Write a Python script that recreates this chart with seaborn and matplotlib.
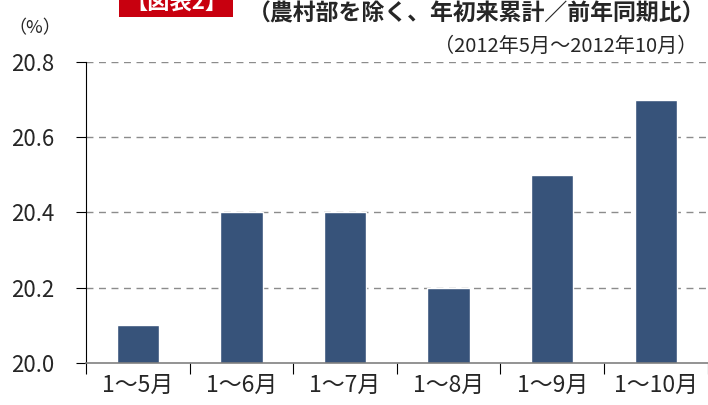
import pandas as pd
import matplotlib.pyplot as plt
import seaborn as sns
from matplotlib.patches import Rectangle

# データ
categories = ['1～5月', '1～6月', '1～7月', '1～8月', '1～9月', '1～10月']
values = [20.1, 20.4, 20.4, 20.2, 20.5, 20.7]
yticks = [20.0, 20.2, 20.4, 20.6, 20.8]

df = pd.DataFrame({'期間': categories, '比率': values})

sns.set_theme(style='white')
plt.rcParams['font.family'] = ['Noto Sans CJK JP', 'DejaVu Sans']

fig = plt.figure(figsize=(7.08, 4.05), dpi=100)
ax = fig.add_axes([0.1215, 0.1037, 0.878, 0.7433])

sns.barplot(data=df, x='期間', y='比率', color='#37537a', saturation=1,
            width=0.41, ax=ax)

ax.set_ylim(20.0, 20.8)
ax.set_xlim(-0.5, 5.5)
ax.set_yticks(yticks)
ax.set_yticklabels([f'{v:.1f}' for v in yticks], fontsize=16)
ax.set_xlabel('')
ax.set_ylabel('')

# グリッド（破線）
for v in yticks[1:]:
    ax.axhline(v, color='#8c8c8c', linestyle=(0, (5, 4)), linewidth=1.0, zorder=0)

for s in ['top', 'right']:
    ax.spines[s].set_visible(False)
ax.spines['left'].set_color('black')
ax.spines['left'].set_linewidth(0.8)
ax.spines['bottom'].set_color('#808080')
ax.spines['bottom'].set_linewidth(1.2)

# x 軸の目盛りは区切り位置に
ax.set_xticks([i - 0.5 for i in range(len(categories) + 1)], minor=False)
ax.set_xticklabels([''] * (len(categories) + 1))
ax.set_xticks(range(len(categories)), minor=True)
ax.set_xticklabels(categories, minor=True, fontsize=16.5)
ax.tick_params(axis='x', which='major', direction='out', length=8, width=0.8,
               color='black', bottom=True)
ax.tick_params(axis='x', which='minor', length=0, pad=8, bottom=True)
ax.tick_params(axis='y', direction='out', length=7, width=0.8, color='black',
               left=True, pad=16)

# タイトル類（図表番号は上端で切れている）
fig.patches.append(Rectangle((119 / 708, 1 - 17 / 405), 114 / 708, 17 / 405,
                             transform=fig.transFigure, facecolor='#c8000f',
                             edgecolor='none', zorder=1))
fig.text(176 / 708, 1 - 3 / 405, '【図表2】', color='white', fontsize=16,
         fontweight='bold', ha='center', va='center', zorder=2)
fig.text(0.350, 0.965, '（農村部を除く、年初来累計／前年同期比）', fontsize=16.5,
         fontweight='bold', ha='left', va='center')
fig.text(0.985, 0.885, '（2012年5月～2012年10月）', fontsize=14.5,
         ha='right', va='center')
fig.text(0.012, 0.93, '（%）', fontsize=13, ha='left', va='center')

fig.savefig('out.png', dpi=100)
